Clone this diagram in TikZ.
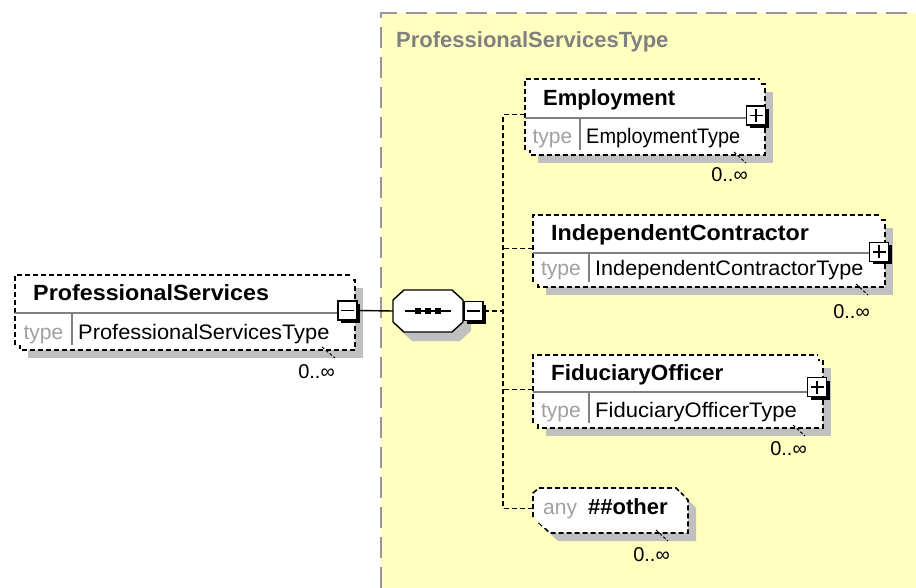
\documentclass[tikz,border=0pt]{standalone}
\usepackage{fontspec}
\usepackage{graphicx}
\setmainfont{Liberation Sans}
\usetikzlibrary{shadows}
\definecolor{yel}{RGB}{255,255,192}
\definecolor{shd}{RGB}{192,192,192}
\definecolor{bordg}{RGB}{150,150,150}
\definecolor{typeg}{RGB}{160,160,160}
\definecolor{divg}{RGB}{128,128,128}
\tikzset{
  elemborder/.style={draw=black, line width=1.6pt, dash pattern=on 5pt off 3pt},
  conn/.style={draw=black, line width=1.4pt, dash pattern=on 5pt off 3pt},
  solidconn/.style={draw=black, line width=1.4pt},
  foldtick/.style={draw=black, line width=1pt, dash pattern=on 3pt off 2pt},
  titletxt/.style={font=\fontsize{22}{24}\selectfont\bfseries, anchor=base west, inner sep=0},
  typetxt/.style={font=\fontsize{21}{24}\selectfont, anchor=base west, inner sep=0},
  typelbl/.style={font=\fontsize{21}{24}\selectfont, text=typeg, anchor=base, inner sep=0},
  occ/.style={font=\fontsize{20}{24}\selectfont, anchor=base east, inner sep=0},
  pmbox/.style={draw=black, fill=white, line width=1.6pt, minimum size=19pt, inner sep=0,
    drop shadow={shadow xshift=3pt, shadow yshift=-3pt, fill=black, opacity=1}},
  minusbox/.style={pmbox, path picture={\draw[line width=1.5pt]
    ([xshift=3pt]path picture bounding box.west) -- ([xshift=-3pt]path picture bounding box.east);}},
  plusbox/.style={pmbox, path picture={\draw[line width=1.5pt]
    ([xshift=3pt]path picture bounding box.west) -- ([xshift=-3pt]path picture bounding box.east)
    ([yshift=-3pt]path picture bounding box.north) -- ([yshift=3pt]path picture bounding box.south);}},
}
% #1 name #2 x1 #3 y1 #4 x2 #5 y2 #6 divider y #7 type divider x #8 title #9 type
\newcommand\xelem[9]{%
  \fill[shd] ({#2+13},{#3+13}) rectangle ({#4+13},{#5+13});
  \filldraw[fill=white, elemborder] ({#2+5},{#3+5}) rectangle ({#4+5},{#5+5});
  \fill[white] (#2,#3) rectangle (#4,#5);
  \draw[elemborder] (#2,#5) -- (#2,#3) -- (#4,#3);
  \draw[divg, line width=1.2pt] (#2,#6) -- (#4,#6);
  \draw[divg, line width=1.2pt] (#7,#6) -- (#7,#5);
  \node[inner sep=0, minimum width={(#4-#2)*1pt}, minimum height={(#5-#3)*1pt}, anchor=north west] (#1) at (#2,#3) {};
  \node[titletxt] (#1-title) at ({#2+18},{#6-12}) {#8};
  \node[typelbl] (#1-tl) at ({(#2+#7)/2},{#5-6}) {type};
  \node[typetxt] (#1-type) at ({#7+6},{#5-6}) {#9};
}
\begin{document}
\begin{tikzpicture}[x=1pt,y=-1pt]
\useasboundingbox (0,0) rectangle (916,588);
% yellow complex type area
\fill[yel] (381,13) rectangle (916,588);
\draw[bordg, line width=2pt, dash pattern=on 21pt off 9pt] (381,588) -- (381,13) -- (916,13);
\node[font=\fontsize{22}{24}\selectfont\bfseries, text=divg, anchor=base west, inner sep=0] (cttitle) at (396,48) {ProfessionalServicesType};

% ProfessionalServices element
\xelem{ps}{15}{275}{350}{345}{313}{72}{\scalebox{1.06}[1]{ProfessionalServices}}{\scalebox{1.04}[1]{ProfessionalServicesType}}
\node[minusbox] (psm) at (347.5,310.5) {};
\draw[foldtick] (322,347) -- (335,358);
\node[occ] (psocc) at (335,378) {0..∞};

% sequence compositor
\fill[shd] (401,309) -- (412,299) -- (460,299) -- (471,309) -- (471,331) -- (460,341) -- (412,341) -- (401,331) -- cycle;
\filldraw[fill=white, draw=black, line width=1.4pt] (393,300) -- (404,290) -- (452,290) -- (463,300) -- (463,322) -- (452,332) -- (404,332) -- (393,322) -- cycle;
\node[inner sep=0, minimum width=70pt, minimum height=42pt] (seq) at (428,311) {};
\draw[line width=1.4pt] (405,311) -- (451,311);
\fill (415,308) rectangle (421,314);
\fill (425,308) rectangle (431,314);
\fill (435,308) rectangle (441,314);
\node[minusbox] (seqm) at (473.5,311) {};
\draw[solidconn] (psm.east) -- (seq.west);

% children
\xelem{emp}{525}{79}{760}{150}{118}{580}{Employment}{\scalebox{0.95}[1]{EmploymentType}}
\node[plusbox] (empp) at (756,115.5) {};
\draw[foldtick] (734,152) -- (746,163);
\node[occ] (empocc) at (748,182) {0..∞};

\xelem{ic}{533}{215}{880}{282}{253}{589}{\scalebox{1.06}[1]{IndependentContractor}}{\scalebox{1.03}[1]{IndependentContractorType}}
\node[plusbox] (icp) at (879,252) {};
\draw[foldtick] (856,284) -- (868,295);
\node[occ] (icocc) at (870,318) {0..∞};

\xelem{fo}{533}{355}{818}{423}{392}{589}{\scalebox{1.02}[1]{FiduciaryOfficer}}{\scalebox{1.05}[1]{FiduciaryOfficerType}}
\node[plusbox] (fop) at (817,387) {};
\draw[foldtick] (793,425) -- (805,436);
\node[occ] (foocc) at (807,455) {0..∞};

% any ##other
\fill[shd] (546,506) -- (552,501) -- (689,501) -- (696,508) -- (696,541) -- (558,541) -- (546,530) -- cycle;
\filldraw[fill=white, elemborder] (538,498) -- (544,493) -- (681,493) -- (688,500) -- (688,533) -- (550,533) -- (538,522) -- cycle;
\fill[white] (533,493) -- (539,488) -- (676,488) -- (683,495) -- (683,528) -- (545,528) -- (533,517) -- cycle;
\draw[elemborder] (533,517) -- (533,493) -- (539,488) -- (676,488) -- (683,495);
\node[inner sep=0, minimum width=150pt, minimum height=40pt, anchor=north west] (any) at (533,488) {};
\node[font=\fontsize{21}{24}\selectfont, text=typeg, anchor=base west, inner sep=0] (anylbl) at (543,514) {any};
\node[titletxt] (anyns) at (588,514) {\#\#other};
\draw[foldtick] (656,530) -- (668,541);
\node[occ] (anyocc) at (670,561) {0..∞};

% connectors
\coordinate (bus) at (503,311);
\draw[conn] (seqm.east) -- (bus);
\draw[conn] (emp.west) -- (emp.west -| bus) -- (any.west -| bus) -- (any.west);
\draw[conn] (ic.west) -- (ic.west -| bus);
\draw[conn] (fo.west) -- (fo.west -| bus);
\end{tikzpicture}
\end{document}
